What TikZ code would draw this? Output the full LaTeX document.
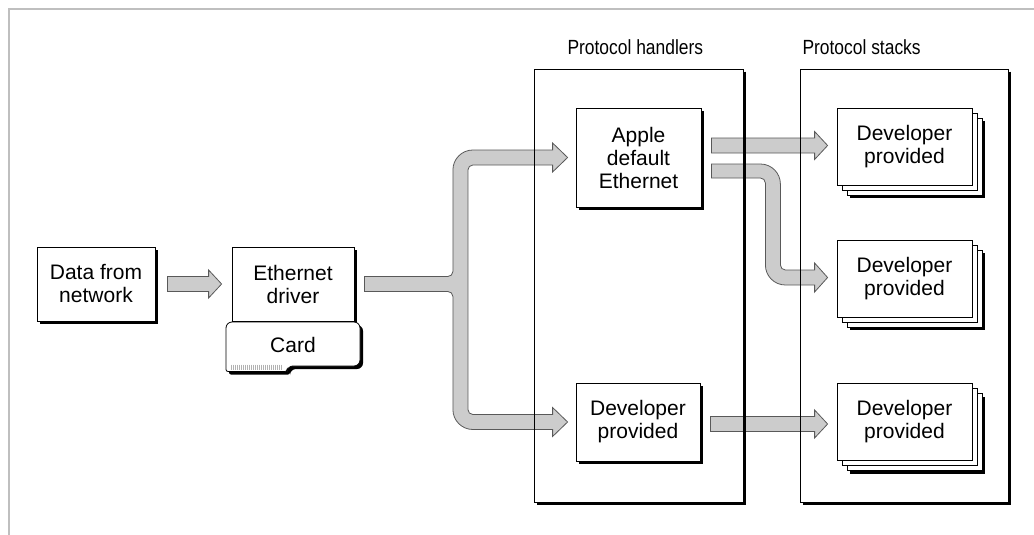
\documentclass[tikz,border=0pt]{standalone}
\usepackage{fontspec}
\setmainfont{Liberation Sans}
\newfontfamily\narrowfont[FakeStretch=0.85]{Liberation Sans}
\usetikzlibrary{positioning}
\usetikzlibrary{calc}
\usetikzlibrary{shadows}
\usetikzlibrary{backgrounds}
\tikzset{every node/.style={font=\fontsize{21}{23}\selectfont},
shadowed/.style={ % white box with a black shadow
draw,
line width=0.8pt,
fill=white,
drop shadow={shadow xshift=3pt,shadow yshift=-3pt,fill=black,opacity=1}},
pbox/.style={shadowed,
align=center,
inner sep=0pt},
stackbox/.style={ % three pages on top of each other
draw,
line width=0.8pt,
fill=white,
align=center,
inner sep=0pt,
minimum width=135pt,
minimum height=77pt,
drop shadow={shadow xshift=13pt,shadow yshift=-13pt,fill=black,opacity=1},
copy shadow={shadow xshift=10pt,shadow yshift=-10pt,draw=black,fill=white,line width=0.8pt},
copy shadow={shadow xshift=5pt,shadow yshift=-5pt,draw=black,fill=white,line width=0.8pt}},
holder/.style={draw,line width=0.8pt,minimum width=209pt,minimum height=433pt},
heading/.style={anchor=west,font=\narrowfont\fontsize{20.5}{23}\selectfont},
fatarrow/.style={fill=gray!40,draw=black!65,line width=0.8pt},
pageedge/.style={draw=gray!50,line width=2pt}}

% straight grey arrow from #1 to the x of #2
\newcommand{\fatarrow}[2]{%
\draw[fatarrow] ($(#1)+(0,-7.5)$) -- ($(#2|-#1)+(-13,-7.5)$) -- ($(#2|-#1)+(-13,-14)$)
  -- (#2|-#1) -- ($(#2|-#1)+(-13,14)$) -- ($(#2|-#1)+(-13,7.5)$) -- ($(#1)+(0,7.5)$) -- cycle;}

\begin{document}
\begin{tikzpicture}[x=1pt,y=-1pt,on grid]
  \useasboundingbox (0,0) rectangle (1034,535);
  \draw[pageedge] (1034,9) -- (9,9) -- (9,535);

  \node[holder]                       (hnd) at (638.5,285.5) {};
  \node[holder,minimum width=208pt]   (stk) at (904,285.5)   {};
  \foreach \c in {hnd,stk}
    \draw[line width=3pt] ($(\c.north east)+(1.5,3)$) |- ($(\c.south west)+(3,1.5)$);
  \node[heading] (hnd_lab) at (564,47) {Protocol handlers};
  \node[heading] (stk_lab) at (799,47) {Protocol stacks};

  \node[pbox,minimum width=118pt,minimum height=74pt] (data) at (96,284) {Data from\\network};
  \node[pbox,minimum width=122pt,minimum height=74pt,right=197pt of data] (drv) {Ethernet\\driver};
  % card under the driver
  \path[shadowed] (226,322) [rounded corners=6pt] -- (360,322) -- (360,366) -- (287,366)
    [rounded corners=2pt] -- (287,371.5) -- (226,371.5) [rounded corners=6pt] -- cycle;
  \foreach \i in {231,233,...,281}
    \draw[gray!60,line width=0.4pt] (\i,364.5) -- (\i,369.5);
  \node (card) at (293,345) {Card};

  \node[pbox,minimum width=125pt,minimum height=99pt] (apl) at (638.5,157.5) {Apple\\default\\Ethernet};
  \node[pbox,minimum width=124pt,minimum height=78pt] (dvh) at (638,422) {Developer\\provided};

  \node[stackbox] (ds_1) at (904.5,146.5) {Developer\\provided};
  \node[stackbox,below=132pt of ds_1] (ds_2) {Developer\\provided};
  \node[stackbox,below=143.5pt of ds_2] (ds_3) {Developer\\provided};

  \begin{pgfonlayer}{background}
  \coordinate (a_1) at ($(data.east)+(12,0)$);
  \coordinate (a_2) at ($(drv.west)+(-10,0)$);
  \fatarrow{a_1}{a_2}
  % driver to both handlers
  \coordinate (s) at ($(drv.east)+(10,0)$);
  \coordinate (t_1) at ($(apl.west)+(-8,0)$);
  \coordinate (t_2) at ($(dvh.west)+(-8,0)$);
  \coordinate (k) at ($(s)+(96,0)$);
  \draw[fatarrow] ($(s)+(0,-7.5)$) -- ($(k)+(-12.5,-7.5)$) arc[start angle=90,end angle=0,radius=5]
    -- ($(k|-t_1)+(-7.5,12.5)$) arc[start angle=180,end angle=270,radius=20]
    -- ($(t_1)+(-15,-7.5)$) -- ($(t_1)+(-15,-14.5)$) -- (t_1) -- ($(t_1)+(-15,14.5)$) -- ($(t_1)+(-15,7.5)$)
    -- ($(k|-t_1)+(12.5,7.5)$) arc[start angle=270,end angle=180,radius=5]
    -- ($(k|-t_2)+(7.5,-12.5)$) arc[start angle=180,end angle=90,radius=5]
    -- ($(t_2)+(-15,-7.5)$) -- ($(t_2)+(-15,-14.5)$) -- (t_2) -- ($(t_2)+(-15,14.5)$) -- ($(t_2)+(-15,7.5)$)
    -- ($(k|-t_2)+(12.5,7.5)$) arc[start angle=90,end angle=180,radius=20]
    -- ($(k)+(-7.5,12.5)$) arc[start angle=0,end angle=-90,radius=5]
    -- ($(s)+(0,7.5)$) -- cycle;
  % handlers to stacks
  \coordinate (c_1) at ($(apl.east)+(10,-12)$);
  \coordinate (c_2) at ($(ds_1.west)+(-9,0)$);
  \fatarrow{c_1}{c_2}
  \coordinate (e_1) at ($(dvh.east)+(10,2)$);
  \coordinate (e_2) at ($(ds_3.west)+(-9,0)$);
  \fatarrow{e_1}{e_2}
  \coordinate (b_1) at ($(apl.east)+(10,13.5)$);
  \coordinate (b_2) at ($(ds_2.west)+(-9,-1)$);
  \coordinate (m) at ($(b_1)+(61.5,0)$);
  \draw[fatarrow] ($(b_1)+(0,-7)$) -- ($(m)+(-12.5,-7)$) arc[start angle=270,end angle=360,radius=20]
    -- ($(m|-b_2)+(7.5,-12.5)$) arc[start angle=180,end angle=90,radius=5]
    -- ($(b_2)+(-13,-7.5)$) -- ($(b_2)+(-13,-14.5)$) -- (b_2) -- ($(b_2)+(-13,14.5)$) -- ($(b_2)+(-13,7.5)$)
    -- ($(m|-b_2)+(12.5,7.5)$) arc[start angle=90,end angle=180,radius=20]
    -- ($(m)+(-7.5,12)$) arc[start angle=0,end angle=-90,radius=5]
    -- ($(b_1)+(0,7)$) -- cycle;
  \end{pgfonlayer}
\end{tikzpicture}
\end{document}
